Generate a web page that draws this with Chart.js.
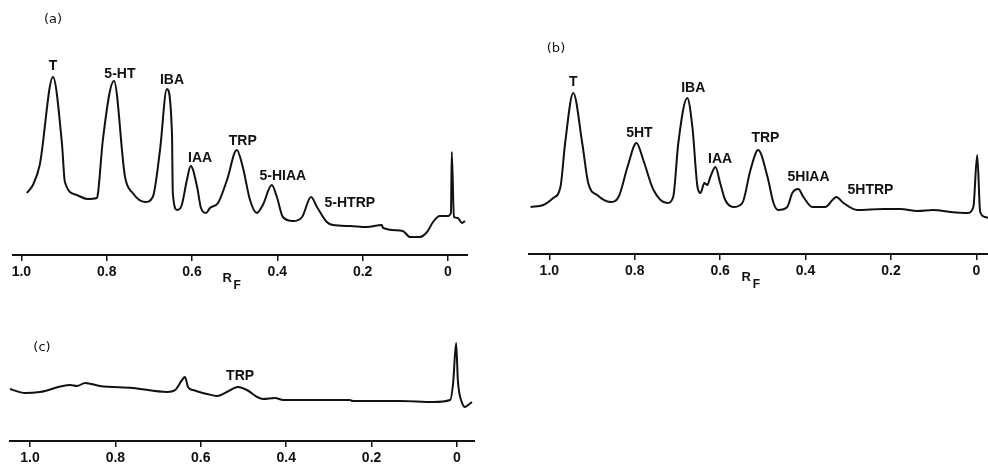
<!DOCTYPE html>
<html>
<head>
<meta charset="utf-8">
<script src="https://cdn.jsdelivr.net/npm/chart.js@4"></script>
<style>
  body { margin: 0; background: #fff; width: 988px; height: 466px; position: relative; overflow: hidden; }
  canvas { position: absolute; }
</style>
</head>
<body>
<canvas id="chartA" width="456" height="300" style="left:12px;top:0px"></canvas>
<canvas id="chartB" width="460" height="300" style="left:528px;top:0px"></canvas>
<canvas id="chartC" width="466" height="146" style="left:9px;top:320px"></canvas>
<script>
// R_F positions (x) and detector response (arbitrary units)
const rfA = [0.987, 0.973, 0.957, 0.926, 0.905, 0.898, 0.870, 0.846, 0.823, 0.820, 0.809, 0.783, 0.757, 0.739, 0.710, 0.692,
  0.675, 0.659, 0.647, 0.645, 0.635, 0.624, 0.612, 0.603, 0.588, 0.579, 0.567, 0.558, 0.539, 0.518, 0.495, 0.481, 0.464,
  0.448, 0.434, 0.413, 0.401, 0.387, 0.363, 0.342, 0.321, 0.307, 0.284, 0.270, 0.230, 0.190, 0.155, 0.152, 0.106, 0.089,
  0.066, 0.049, 0.035, 0.019, 0.000, -0.007, -0.009, -0.014, -0.023, -0.033, -0.040];
const sigA = [62, 70, 90, 178, 112, 73, 60, 56, 57, 63, 115, 174, 78, 62, 53, 58,
  105, 166, 122, 62, 45, 50, 75, 89, 68, 47, 42, 47, 52, 75, 105, 88, 55,
  42, 50, 70, 58, 38, 34, 38, 58, 48, 33, 30, 29, 28, 30, 27, 24, 18,
  18, 23, 33, 39, 39, 42, 103, 38, 37, 32, 34];

const rfB = [1.044, 1.014, 0.991, 0.974, 0.963, 0.944, 0.923, 0.909, 0.888, 0.857, 0.838, 0.817, 0.796, 0.780, 0.756, 0.724,
  0.710, 0.698, 0.677, 0.665, 0.653, 0.646, 0.637, 0.630, 0.623, 0.611, 0.600, 0.588, 0.569, 0.548, 0.529, 0.511, 0.489,
  0.475, 0.464, 0.443, 0.431, 0.417, 0.405, 0.384, 0.354, 0.337, 0.328, 0.311, 0.279, 0.218, 0.178, 0.138, 0.101, 0.061,
  0.021, 0.007, -0.002, -0.009, -0.021, -0.028];
const sigB = [47, 49, 56, 67, 111, 161, 111, 71, 59, 52, 57, 87, 111, 94, 64, 51,
  57, 111, 156, 127, 67, 61, 71, 69, 77, 87, 71, 54, 47, 51, 84, 104, 77,
  51, 44, 47, 61, 65, 57, 47, 47, 54, 57, 51, 44, 45, 45, 43, 44, 42,
  41, 47, 99, 42, 37, 36];

const rfC = [1.047, 1.012, 0.977, 0.906, 0.890, 0.871, 0.836, 0.759, 0.679, 0.660, 0.644, 0.637, 0.630, 0.618, 0.585, 0.562,
  0.539, 0.513, 0.492, 0.468, 0.454, 0.426, 0.407, 0.328, 0.251, 0.244, 0.211, 0.133, 0.056, 0.016, 0.009, 0.002,
  -0.002, -0.012, -0.019, -0.026, -0.035];
const sigC = [52, 48, 49, 56, 55, 58, 55, 53, 49, 51, 61, 64, 54, 51, 47, 45,
  49, 54, 51, 44, 42, 43, 41, 41, 41, 40, 40, 40, 39, 41, 58, 98,
  61, 38, 34, 36, 39];

const tickValues = [1.0, 0.8, 0.6, 0.4, 0.2, 0];

const peaksA = ['T', '5-HT', 'IBA', 'IAA', 'TRP', '5-HIAA', '5-HTRP'];
const peakRfA = [0.926, 0.769, 0.647, 0.581, 0.481, 0.387, 0.230];
const peakSigA = [189, 181, 175, 97, 114, 79, 52];

const peaksB = ['T', '5HT', 'IBA', 'IAA', 'TRP', '5HIAA', '5HTRP'];
const peakRfB = [0.944, 0.789, 0.663, 0.600, 0.494, 0.393, 0.248];
const peakSigB = [172, 121, 166, 95, 116, 77, 64];

const peaksC = ['TRP'];
const peakRfC = [0.508];
const peakSigC = [65];

const ink = '#111';

// draws peak names, panel letter and the R_F axis title
const labelPlugin = {
  id: 'peakLabels',
  afterDraw(chart, args, opts) {
    const ctx = chart.ctx;
    const xs = chart.scales.x, ys = chart.scales.y;
    ctx.save();
    ctx.fillStyle = ink;
    ctx.textAlign = 'center';
    ctx.textBaseline = 'middle';
    ctx.font = 'bold 14px "Liberation Sans", Arial, sans-serif';
    opts.names.forEach((n, i) => {
      ctx.fillText(n, xs.getPixelForValue(opts.rf[i]), ys.getPixelForValue(opts.sig[i]));
    });
    ctx.font = '13px "DejaVu Sans", sans-serif';
    ctx.fillText(opts.tag, opts.tagX, opts.tagY);
    if (opts.rfTitle) {
      const bx = xs.getPixelForValue(opts.rfTitle);
      const by = chart.chartArea.bottom;
      ctx.font = 'bold 13px "Liberation Sans", Arial, sans-serif';
      ctx.fillText('R', bx - 5, by + 23);
      ctx.font = 'bold 12px "Liberation Sans", Arial, sans-serif';
      ctx.fillText('F', bx + 5, by + 31);
    }
    ctx.restore();
  }
};

function makeChart(id, rf, sig, cfg) {
  return new Chart(document.getElementById(id), {
    type: 'line',
    data: {
      datasets: [{
        data: rf.map((r, i) => ({ x: r, y: sig[i] })),
        borderColor: ink,
        borderWidth: 2,
        pointRadius: 0,
        cubicInterpolationMode: 'monotone',
        fill: false
      }]
    },
    plugins: [labelPlugin],
    options: {
      responsive: false,
      animation: false,
      layout: { padding: { top: cfg.top, left: 0, right: 0, bottom: 0 } },
      plugins: {
        legend: { display: false },
        tooltip: { enabled: false },
        peakLabels: cfg.labels
      },
      scales: {
        x: {
          type: 'linear',
          reverse: true,
          min: cfg.min,
          max: cfg.max,
          afterBuildTicks: (s) => { s.ticks = tickValues.map(v => ({ value: v })); },
          afterFit: (s) => { s.height = cfg.axisH; s.paddingLeft = 0; s.paddingRight = 0; },
          ticks: {
            color: ink,
            padding: 3,
            maxRotation: 0,
            autoSkip: false,
            font: { family: '"Liberation Sans", Arial, sans-serif', size: 14, weight: 'bold' },
            callback: (v) => v === 0 ? '0' : v.toFixed(1)
          },
          grid: { drawOnChartArea: false, drawTicks: true, tickLength: 6, color: ink, lineWidth: 1.5 },
          border: { display: true, color: ink, width: 2 }
        },
        y: { display: false, min: 0, max: cfg.ymax }
      }
    }
  });
}

makeChart('chartA', rfA, sigA, {
  top: 55, axisH: 45, ymax: 200, min: -0.047, max: 1.022,
  labels: { names: peaksA, rf: peakRfA, sig: peakSigA, tag: '(a)', tagX: 41, tagY: 20, rfTitle: 0.506 }
});
makeChart('chartB', rfB, sigB, {
  top: 54, axisH: 46, ymax: 200, min: -0.0273, max: 1.05,
  labels: { names: peaksB, rf: peakRfB, sig: peakSigB, tag: '(b)', tagX: 28, tagY: 49, rfTitle: 0.527 }
});
makeChart('chartC', rfC, sigC, {
  top: 21, axisH: 25, ymax: 100, min: -0.0422, max: 1.0492,
  labels: { names: peaksC, rf: peakRfC, sig: peakSigC, tag: '(c)', tagX: 33, tagY: 28, rfTitle: null }
});
</script>
</body>
</html>
